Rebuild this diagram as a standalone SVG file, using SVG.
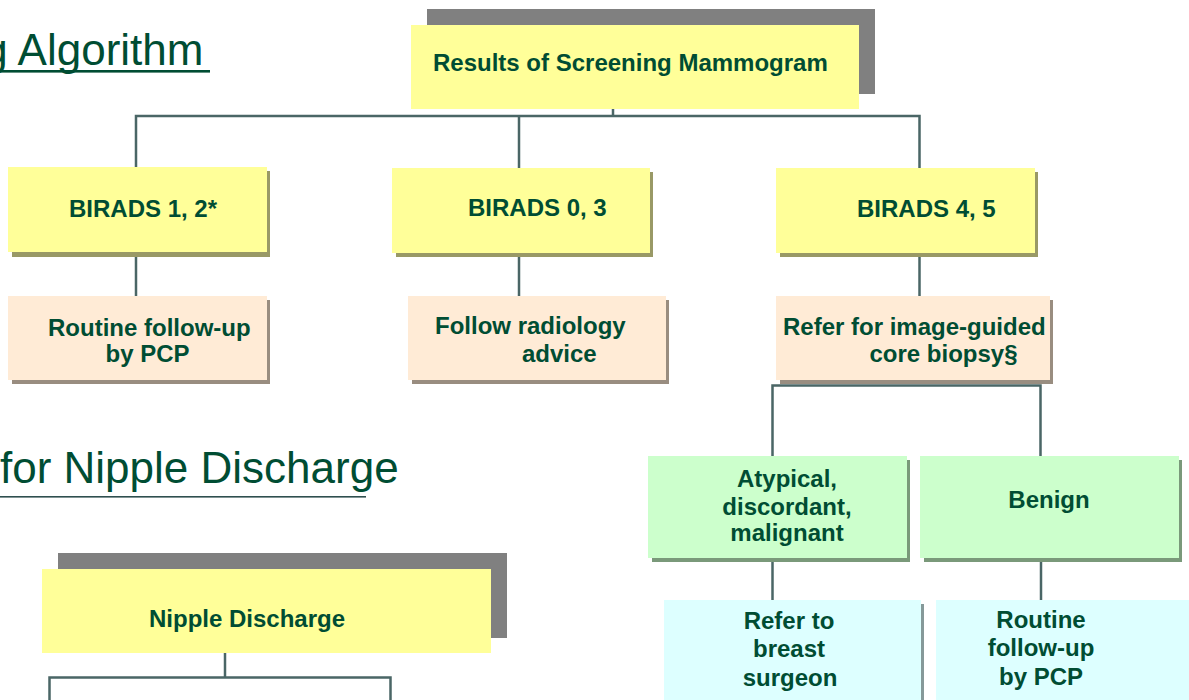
<svg xmlns="http://www.w3.org/2000/svg" width="1189" height="700" viewBox="0 0 1189 700">
<style>
.t{font-family:"Liberation Sans",Arial,sans-serif;font-weight:bold;font-size:24px;fill:#004D33}
.c{text-anchor:middle}
.title{font-family:"Liberation Sans",Arial,sans-serif;font-size:44px;fill:#004D33}
.ln{stroke:#4A6666;stroke-width:2.5;fill:none}
.y{fill:#FFFF99}.ys{fill:#999966}
.p{fill:#FFEBD6}.ps{fill:#998D80}
.g{fill:#CCFFCC}.gs{fill:#7A997A}
.b{fill:#DDFFFF}.bs{fill:#859999}
.hs{fill:#808080}
</style>
<rect width="1189" height="700" fill="#FFFFFF"/>
<g id="titles">
<text class="title" x="-16.7" y="65">g Algorithm</text>
<rect x="0" y="70" width="210" height="2.6" fill="#004D33"/>
<text class="title" x="0" y="483">for Nipple Discharge</text>
<rect x="0" y="496" width="366" height="1.6" fill="#2F4F4F"/>
</g>
<g id="connectors">
<line class="ln" x1="613" y1="108" x2="613" y2="116" stroke-width="1.5"/>
<polyline class="ln" points="136,168 136,116 919.5,116 919.5,168"/>
<line class="ln" x1="519" y1="116" x2="519" y2="168"/>
<line class="ln" x1="136" y1="252" x2="136" y2="296"/>
<line class="ln" x1="519" y1="253" x2="519" y2="296"/>
<line class="ln" x1="919.5" y1="253" x2="919.5" y2="296"/>
<polyline class="ln" points="772.5,456 772.5,385.5 1040.5,385.5 1040.5,456"/>
<line class="ln" x1="772.5" y1="558" x2="772.5" y2="600"/>
<line class="ln" x1="1041" y1="558" x2="1041" y2="600"/>
<line class="ln" x1="225" y1="653" x2="225" y2="677.5"/>
<polyline class="ln" points="49.5,700 49.5,677.5 390.5,677.5 390.5,700"/>
</g>
<g id="n-results">
<rect class="hs" x="427" y="9" width="448" height="85"/>
<rect class="y" x="411" y="25" width="448" height="84"/>
<text class="t" x="433" y="71">Results of Screening Mammogram</text>
</g>
<g id="n-birads12">
<rect class="ys" x="12" y="171" width="258" height="86"/>
<rect class="y" x="8" y="167" width="259" height="85"/>
<text class="t" x="69" y="217">BIRADS 1, 2*</text>
</g>
<g id="n-birads03">
<rect class="ys" x="396" y="172" width="257" height="85"/>
<rect class="y" x="392" y="168" width="258" height="85"/>
<text class="t" x="468" y="216">BIRADS 0, 3</text>
</g>
<g id="n-birads45">
<rect class="ys" x="780" y="172" width="258" height="85"/>
<rect class="y" x="776" y="168" width="259" height="85"/>
<text class="t" x="857" y="217">BIRADS 4, 5</text>
</g>
<g id="n-routine1">
<rect class="ps" x="12" y="300" width="258" height="84"/>
<rect class="p" x="8" y="296" width="259" height="84"/>
<text class="t" x="48" y="336">Routine follow-up</text>
<text class="t" x="105.5" y="362">by PCP</text>
</g>
<g id="n-radiology">
<rect class="ps" x="412" y="300" width="257" height="84"/>
<rect class="p" x="408" y="296" width="258" height="84"/>
<text class="t" x="435" y="334">Follow radiology</text>
<text class="t" x="522" y="362">advice</text>
</g>
<g id="n-biopsy">
<rect class="ps" x="780" y="300" width="273" height="84"/>
<rect class="p" x="776" y="296" width="274" height="84"/>
<text class="t" x="783" y="335">Refer for image-guided</text>
<text class="t" x="869.5" y="362">core biopsy§</text>
</g>
<g id="n-atypical">
<rect class="gs" x="652" y="460" width="258" height="102"/>
<rect class="g" x="648" y="456" width="259" height="102"/>
<text class="t c" x="787" y="487">Atypical,</text>
<text class="t c" x="787" y="515">discordant,</text>
<text class="t c" x="787" y="541">malignant</text>
</g>
<g id="n-benign">
<rect class="gs" x="924" y="460" width="258" height="102"/>
<rect class="g" x="920" y="456" width="259" height="102"/>
<text class="t c" x="1049" y="508">Benign</text>
</g>
<g id="n-surgeon">
<rect class="bs" x="667" y="604" width="257" height="100"/>
<rect class="b" x="664" y="600" width="257" height="100"/>
<text class="t c" x="789" y="629">Refer to</text>
<text class="t c" x="789" y="657">breast</text>
<text class="t c" x="790" y="686">surgeon</text>
</g>
<g id="n-routine2">
<rect class="b" x="936" y="600" width="253" height="100"/>
<text class="t c" x="1041" y="628">Routine</text>
<text class="t c" x="1041" y="656">follow-up</text>
<text class="t c" x="1041" y="685">by PCP</text>
</g>
<g id="n-nipple">
<rect class="hs" x="58" y="553" width="449" height="85"/>
<rect class="y" x="42" y="569" width="449" height="84"/>
<text class="t" x="149" y="627">Nipple Discharge</text>
</g>
</svg>
